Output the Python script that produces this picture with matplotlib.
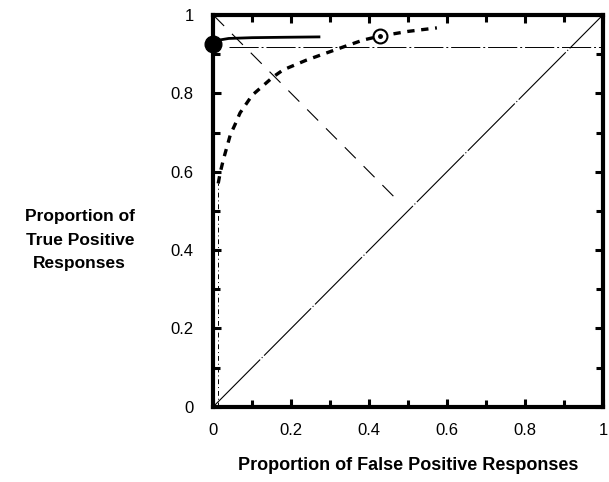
import numpy as np
import matplotlib.pyplot as plt
from matplotlib.ticker import MultipleLocator

plt.rcParams['font.family'] = ['Liberation Sans', 'DejaVu Sans']

# solid ROC curve (runs up the y axis, then flattens)
solid_x = [0.0, 0.0, 0.01, 0.04, 0.10, 0.18, 0.275]
solid_y = [0.0, 0.925, 0.935, 0.940, 0.942, 0.943, 0.944]

# dotted ROC curve
dot_x = [0.013, 0.018, 0.026, 0.044, 0.056, 0.069, 0.10, 0.154, 0.18, 0.24, 0.333, 0.385, 0.428, 0.50, 0.574]
dot_y = [0.57, 0.597, 0.63, 0.694, 0.72, 0.75, 0.795, 0.842, 0.86, 0.885, 0.918, 0.936, 0.946, 0.958, 0.967]

# thin vertical dash-dot under the dotted curve
vert_x = [0.013, 0.013]
vert_y = [0.0, 0.57]

# horizontal dash-dot reference
horiz_x = [0.04, 1.0]
horiz_y = [0.918, 0.918]

# chance diagonal
diag_x = [0.0, 1.0]
diag_y = [0.0, 1.0]

# long-dash line from the top-left corner towards the diagonal
perp_x = [0.0, 0.47]
perp_y = [1.0, 0.53]

# markers
filled_pt = (0.0, 0.925)
open_pt = (0.428, 0.946)

tick_vals = [0, 0.2, 0.4, 0.6, 0.8, 1.0]
tick_labels = ['0', '0.2', '0.4', '0.6', '0.8', '1']

fig = plt.figure(figsize=(6.09, 4.82), dpi=100)
ax = fig.add_axes([0.350, 0.156, 0.640, 0.813])

ax.plot(diag_x, diag_y, color='black', linewidth=0.8, linestyle=(0, (60, 2, 1, 2)))
ax.plot(perp_x, perp_y, color='black', linewidth=0.8, linestyle=(0, (14, 10)))
ax.plot(horiz_x, horiz_y, color='black', linewidth=0.7, linestyle=(0, (30, 3, 2, 3)))
ax.plot(vert_x, vert_y, color='black', linewidth=0.7, linestyle=(0, (5, 3, 1, 3)))
ax.plot(solid_x, solid_y, color='black', linewidth=2.0, solid_capstyle='butt')
ax.plot(dot_x, dot_y, color='black', linewidth=2.4, linestyle=(0, (2.2, 2)))

ax.plot(*filled_pt, marker='o', markersize=12, color='black', clip_on=False, zorder=5)
ax.plot(*open_pt, marker='o', markersize=10, markerfacecolor='white',
        markeredgecolor='black', markeredgewidth=1.5, zorder=5)
ax.plot(*open_pt, marker='o', markersize=2.5, color='black', zorder=6)

ax.set_xlim(0, 1)
ax.set_ylim(0, 1)
ax.xaxis.set_minor_locator(MultipleLocator(0.1))
ax.yaxis.set_minor_locator(MultipleLocator(0.1))
ax.set_xticks(tick_vals)
ax.set_xticklabels(tick_labels)
ax.set_yticks(tick_vals)
ax.set_yticklabels(tick_labels)

ax.tick_params(which='both', direction='in', top=True, right=True,
               width=2.2, labelsize=12)
ax.tick_params(which='major', length=6)
ax.tick_params(which='minor', length=5)
ax.tick_params(axis='x', pad=12)
ax.tick_params(axis='y', pad=14)
for s in ax.spines.values():
    s.set_linewidth(3)

ax.set_xlabel('Proportion of False Positive Responses', fontsize=13,
              fontweight='bold', labelpad=13)
fig.text(0.131, 0.502, 'Proportion of\nTrue Positive\nResponses', ha='center', va='center',
         fontsize=12.5, fontweight='bold', linespacing=1.7)

fig.savefig('out.png', dpi=100)
